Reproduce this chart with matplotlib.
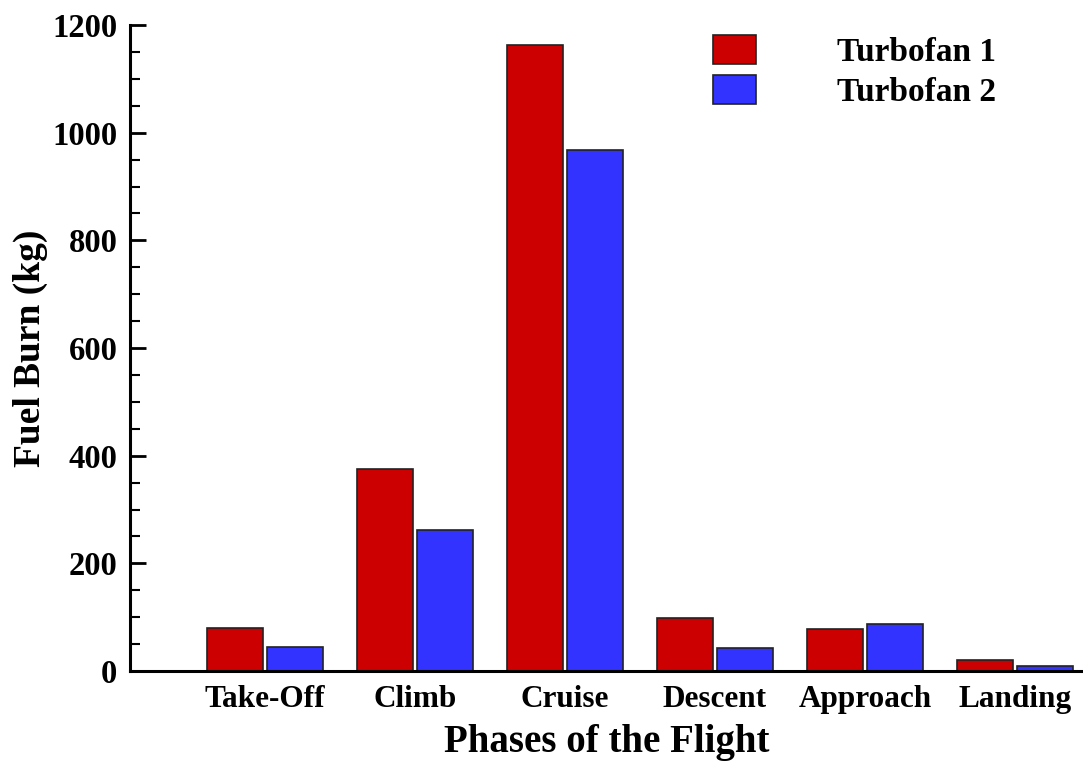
import matplotlib
matplotlib.use("Agg")
import matplotlib.pyplot as plt
import numpy as np
from matplotlib.ticker import MultipleLocator

phases = ["Take-Off", "Climb", "Cruise", "Descent", "Approach", "Landing"]
turbofan1 = [80, 375, 1163, 98, 78, 20]
turbofan2 = [45, 262, 968, 42, 87, 9]

plt.rcParams['font.family'] = ['Liberation Serif', 'DejaVu Serif']
plt.rcParams['font.weight'] = 'bold'

fig = plt.figure(figsize=(10.83, 7.62), dpi=100)
ax = fig.add_axes([130/1083, 91/762, 1 - 130/1083, (671-25)/762])

x = np.arange(len(phases))
w = 0.373
ax.bar(x - 0.2, turbofan1, w, color='#cc0000', edgecolor='#222222', lw=1.2, label='Turbofan 1')
ax.bar(x + 0.2, turbofan2, w, color='#3333ff', edgecolor='#222222', lw=1.2, label='Turbofan 2')

ax.set_xlim(-0.9, (1083-265)/150)
ax.set_ylim(0, 1200)
ax.yaxis.set_major_locator(MultipleLocator(200))
ax.yaxis.set_minor_locator(MultipleLocator(50))
ax.set_xticks(x)
ax.set_xticklabels(phases, fontsize=22.5, fontweight='bold')
ax.tick_params(axis='x', length=0, pad=10)
ax.tick_params(axis='y', which='major', direction='in', length=11.5, width=2, labelsize=23.5, pad=9)
ax.tick_params(axis='y', which='minor', direction='in', length=7, width=1.5)
for t in ax.get_yticklabels():
    t.set_fontweight('bold')

for s in ['top', 'right']:
    ax.spines[s].set_visible(False)
for s in ['left', 'bottom']:
    ax.spines[s].set_linewidth(2.2)

ax.set_xlabel("Phases of the Flight", fontsize=28, fontweight='bold', labelpad=7)
ax.set_ylabel("Fuel Burn (kg)", fontsize=27, fontweight='bold')
ax.yaxis.set_label_coords(-0.086, 0.5)

ax.legend(loc='upper left', bbox_to_anchor=(713/1083, 1 - 35/762), bbox_transform=fig.transFigure,
          frameon=False, handlelength=1.29, handleheight=0.96,
          handletextpad=2.43, labelspacing=0.2, borderpad=0, borderaxespad=0,
          prop={'weight': 'bold', 'size': 24})

fig.savefig("out.png", dpi=100)
